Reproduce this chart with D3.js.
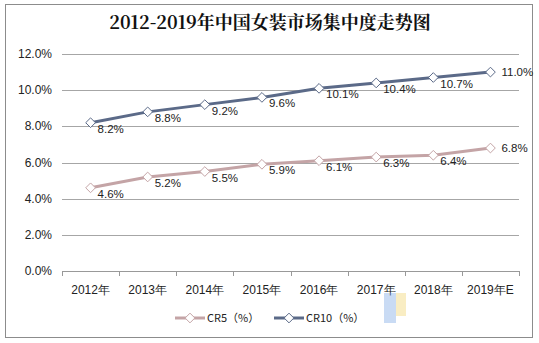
<!DOCTYPE html>
<html><head><meta charset="utf-8">
<script src="https://cdnjs.cloudflare.com/ajax/libs/d3/7.8.5/d3.min.js"></script>
<style>body{margin:0;background:#fff}svg{display:block}</style>
</head><body>
<script>
const categories = ["2012年","2013年","2014年","2015年","2016年","2017年","2018年","2019年E"];
const cr5 = [4.6,5.2,5.5,5.9,6.1,6.3,6.4,6.8];
const cr10 = [8.2,8.8,9.2,9.6,10.1,10.4,10.7,11.0];
const yTicks = [0,2,4,6,8,10,12];
const seriesNames = ["CR5（%）","CR10（%）"];

const W=539,H=343;
const svg=d3.select("body").append("svg").attr("width",W).attr("height",H);
svg.append("rect").attr("x",5.5).attr("y",4.5).attr("width",527).attr("height",333).attr("fill","#fff").attr("stroke","#8c8c8c");
svg.append("text").attr("x",270).attr("y",29).attr("text-anchor","middle")
  .attr("font-family","'Noto Serif CJK SC','Noto Sans CJK SC',serif").attr("font-weight","bold").attr("font-size",18).attr("fill","#111")
  .text("2012-2019年中国女装市场集中度走势图");

const L=62,R=519,T=54,B=271;
const x=d3.scaleBand().domain(categories).range([L,R]);
const y=d3.scaleLinear().domain([0,12]).range([B,T]);
const font="'Liberation Sans',Arial,sans-serif";

const g=svg.append("g");
yTicks.forEach(t=>{
  g.append("line").attr("x1",L).attr("x2",R).attr("y1",Math.round(y(t))+0.5).attr("y2",Math.round(y(t))+0.5)
   .attr("stroke",t===0?"#999":"#a6a6a6").attr("stroke-width",1);
  g.append("text").attr("x",52).attr("y",y(t)+4).attr("text-anchor","end").attr("font-family",font).attr("font-size",12).attr("fill","#222")
   .text(t.toFixed(1)+"%");
});
g.append("line").attr("x1",L+0.5).attr("x2",L+0.5).attr("y1",B).attr("y2",B+5).attr("stroke","#999");
categories.forEach(c=>{
  const xr=Math.round(x(c)+x.bandwidth())+0.5;
  g.append("line").attr("x1",xr).attr("x2",xr).attr("y1",B).attr("y2",B+5).attr("stroke","#999");
  g.append("text").attr("x",x(c)+x.bandwidth()/2).attr("y",B+23).attr("text-anchor","middle").attr("font-family",font).attr("font-size",12).attr("fill","#222").text(c);
});

const cx=c=>x(c)+x.bandwidth()/2;
const diamond=d3.symbol().type(d3.symbolDiamond2).size(60);
function drawSeries(vals,color){
  const line=d3.line().x((d,i)=>cx(categories[i])).y(d=>y(d));
  g.append("path").attr("d",line(vals)).attr("fill","none").attr("stroke",color).attr("stroke-width",3);
  vals.forEach((v,i)=>{
    g.append("path").attr("d",diamond).attr("transform",`translate(${cx(categories[i])},${y(v)})`)
     .attr("fill","#fff").attr("stroke",color).attr("stroke-width",1);
    const last=i===vals.length-1;
    g.append("text").attr("x",cx(categories[i])+(last?11:7)).attr("y",y(v)+(last?4:10))
     .attr("font-family",font).attr("font-size",11.5).attr("fill","#222").text(v.toFixed(1)+"%");
  });
}
drawSeries(cr5,"#c4a4a6");
drawSeries(cr10,"#5b6a88");

// legend
const leg=[{x:175,c:"#c4a4a6",n:seriesNames[0]},{x:274,c:"#5b6a88",n:seriesNames[1]}];
leg.forEach(l=>{
  svg.append("line").attr("x1",l.x).attr("x2",l.x+30).attr("y1",318).attr("y2",318).attr("stroke",l.c).attr("stroke-width",3);
  svg.append("path").attr("d",diamond).attr("transform",`translate(${l.x+15},318)`).attr("fill","#fff").attr("stroke",l.c);
  svg.append("text").attr("x",l.x+32).attr("y",322).attr("font-family","'Noto Sans CJK SC',sans-serif").attr("font-size",11).attr("fill","#222").text(l.n);
});
// watermark shapes (decorative)
const wm=svg.append("g").attr("opacity",0.4);
wm.append("rect").attr("x",384).attr("y",293).attr("width",12).attr("height",30).attr("fill","#7aa7e6");
wm.append("rect").attr("x",396).attr("y",293).attr("width",10).attr("height",23).attr("fill","#f2d36b");
</script>
</body></html>
